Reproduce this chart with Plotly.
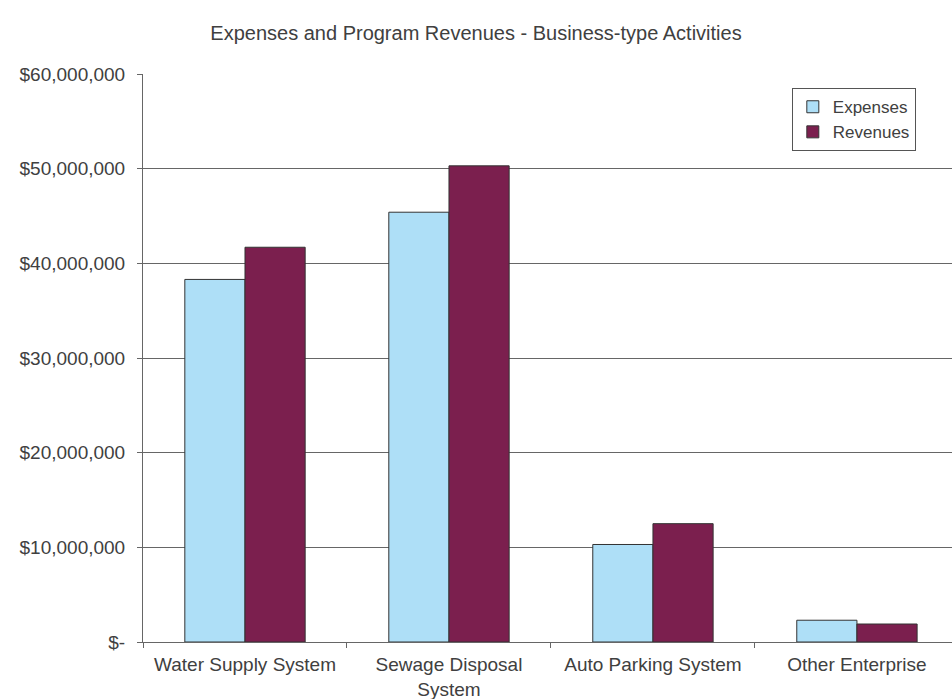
import plotly.graph_objects as go

categories = ["Water Supply System", "Sewage Disposal<br>System", "Auto Parking System", "Other Enterprise"]
expenses = [38300000, 45400000, 10300000, 2300000]
revenues = [41700000, 50300000, 12500000, 1900000]
tick_vals = [0, 10000000, 20000000, 30000000, 40000000, 50000000, 60000000]
tick_text = ["$-", "$10,000,000", "$20,000,000", "$30,000,000", "$40,000,000", "$50,000,000", "$60,000,000"]

font = "Liberation Sans, Arial, sans-serif"

fig = go.Figure()
fig.add_trace(go.Bar(name="Expenses", x=categories, y=expenses,
                     marker=dict(color="#AEDFF7", line=dict(color="#333333", width=1))))
fig.add_trace(go.Bar(name="Revenues", x=categories, y=revenues,
                     marker=dict(color="#7B1F4E", line=dict(color="#333333", width=1))))

fig.update_layout(
    width=952, height=699,
    margin=dict(l=143, r=0, t=74, b=57),
    paper_bgcolor="white", plot_bgcolor="white",
    barmode="group", bargap=0.41, bargroupgap=0,
    font=dict(family=font, size=19, color="#404040"),
    title=dict(text="Expenses and Program Revenues - Business-type Activities",
               x=0.5, xanchor="center", y=1 - 33 / 699, yanchor="middle", yref="container",
               font=dict(family=font, size=20, color="#404040")),
    legend=dict(x=0.802, y=0.975, xanchor="left", yanchor="top",
                bordercolor="#555555", borderwidth=1, bgcolor="white",
                font=dict(family=font, size=17, color="#404040"),
                itemwidth=30, tracegroupgap=0),
    xaxis=dict(range=[-0.5, 3.466], showline=True, linecolor="#666666", linewidth=1,
               ticks="outside", tickson="boundaries", ticklen=5, tickcolor="#666666",
               showgrid=False, tickfont=dict(size=19, color="#404040"), ticklabelstandoff=5),
    yaxis=dict(range=[0, 60000000], tickvals=tick_vals, ticktext=tick_text,
               showline=True, linecolor="#666666", linewidth=1,
               ticks="outside", ticklen=5, tickcolor="#666666",
               showgrid=True, gridcolor="#666666", gridwidth=1, zeroline=False,
               tickfont=dict(size=19, color="#404040"), ticklabelstandoff=8),
)

fig.write_html("out.html")
